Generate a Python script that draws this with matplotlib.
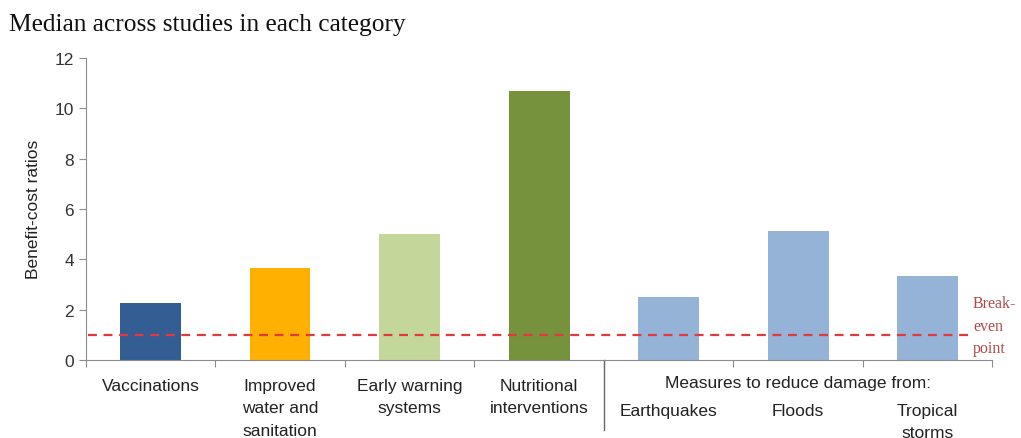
import matplotlib.pyplot as plt
from matplotlib.ticker import FixedLocator

categories = ['Vaccinations', 'Improved\nwater and\nsanitation', 'Early warning\nsystems',
              'Nutritional\ninterventions', 'Earthquakes', 'Floods', 'Tropical\nstorms']
ratios = [2.25, 3.65, 5.0, 10.7, 2.5, 5.1, 3.35]
colors = ['#345E93', '#FFB000', '#C4D79B', '#76923C', '#95B3D7', '#95B3D7', '#95B3D7']
break_even = 1
group_label = 'Measures to reduce damage from:'

plt.rcParams['font.family'] = ['Liberation Sans', 'DejaVu Sans']

fig = plt.figure(figsize=(10.21, 4.39), dpi=100)
ax = fig.add_axes([0.084, 0.178, 0.888, 0.688])

x = list(range(len(categories)))
ax.bar(x, ratios, width=0.47, color=colors, zorder=2)
ax.set_xlim(-0.5, len(categories) - 0.5)
ax.set_ylim(0, 12)
ax.set_yticks([0, 2, 4, 6, 8, 10, 12])

ax.hlines(break_even, -0.48, 6.31, colors='#E0393E', linestyles=(0, (4, 3)), lw=1.6, zorder=3)
ax.text(6.35, 1.35, 'Break-\neven\npoint', color='#B04A4A', family='Liberation Serif',
        fontsize=11.5, va='center', ha='left', linespacing=1.55)

for s in ['top', 'right']:
    ax.spines[s].set_visible(False)
for s in ['left', 'bottom']:
    ax.spines[s].set_color('#8C8C8C')

ax.tick_params(axis='y', colors='#8C8C8C', labelcolor='#333333', labelsize=12.5, length=5)
ax.xaxis.set_major_locator(FixedLocator([i - 0.5 for i in range(len(categories) + 1)]))
ax.tick_params(axis='x', colors='#8C8C8C', length=5, labelbottom=False)
ax.set_ylabel('Benefit-cost ratios', fontsize=12.5, color='#222222', labelpad=10)

for i, lab in enumerate(categories):
    y = -0.72 if i < 4 else -1.7
    ax.text(i, y, lab, ha='center', va='top', fontsize=12.5, color='#222222', linespacing=1.62)

ax.text(5.0, -0.6, group_label, ha='center', va='top', fontsize=12.5, color='#222222')
ax.plot([3.5, 3.5], [0, -2.8], color='#666666', lw=1, clip_on=False)

fig.text(0.009, 0.943, 'Median across studies in each category', family='Liberation Serif',
         fontsize=18.3, color='#111111', va='center')

fig.savefig('out.png')
